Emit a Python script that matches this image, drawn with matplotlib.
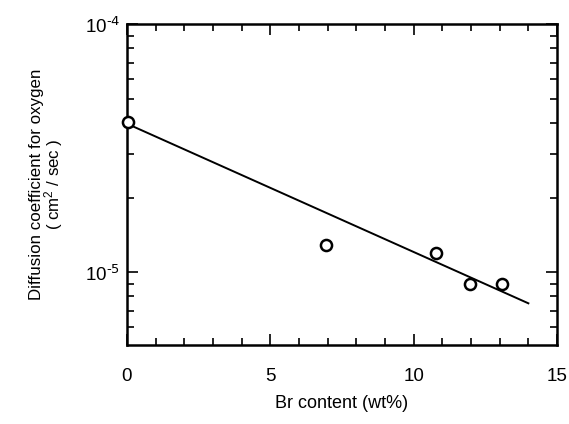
import matplotlib.pyplot as plt
import numpy as np
from matplotlib.ticker import FixedLocator, LogLocator, NullFormatter

plt.rcParams['font.family'] = ['Liberation Sans', 'DejaVu Sans']
plt.rcParams['mathtext.default'] = 'regular'
plt.rcParams['axes.unicode_minus'] = False

# measured points
br_content = [0.05, 6.93, 10.77, 11.97, 13.09]
diffusion = [4.03e-5, 1.29e-5, 1.19e-5, 0.90e-5, 0.897e-5]

# fitted line end points
fit_x = [0.0, 14.0]
fit_y = [3.97e-5, 7.49e-6]

fig = plt.figure(figsize=(5.69, 4.24), dpi=100)
ax = fig.add_axes([0.223, 0.187, 0.756, 0.756])

ax.plot(fit_x, fit_y, color='black', lw=1.4, zorder=2)
ax.plot(br_content, diffusion, 'o', mfc='white', mec='black', mew=1.8,
        ms=8, zorder=3, clip_on=False)

ax.set_yscale('log')
ax.set_xlim(0, 15)
ax.set_ylim(5.1e-6, 1e-4)

ax.xaxis.set_major_locator(FixedLocator([0, 5, 10, 15]))
ax.xaxis.set_minor_locator(FixedLocator(np.arange(0, 16, 1)))
ax.yaxis.set_major_locator(FixedLocator([1e-5, 1e-4]))
ax.yaxis.set_minor_locator(LogLocator(base=10, subs=np.arange(2, 10)))
ax.yaxis.set_minor_formatter(NullFormatter())
ax.set_yticklabels([r'$10^{\text{-5}}$', r'$10^{\text{-4}}$'])

ax.tick_params(which='both', direction='in', top=True, right=True, width=1.2)
ax.tick_params(which='major', length=8)
ax.tick_params(which='minor', length=5)
ax.tick_params(axis='x', which='major', pad=17, labelsize=13.5)
ax.tick_params(axis='y', which='major', pad=5, labelsize=13.5)

for s in ax.spines.values():
    s.set_linewidth(1.8)

ax.set_xlabel('Br content (wt%)', fontsize=13, labelpad=7)
ax.set_ylabel('Diffusion coefficient for oxygen\n( cm$^2$ / sec )',
              fontsize=12.2, linespacing=0.9, labelpad=14)

fig.savefig('out.png', dpi=100)
